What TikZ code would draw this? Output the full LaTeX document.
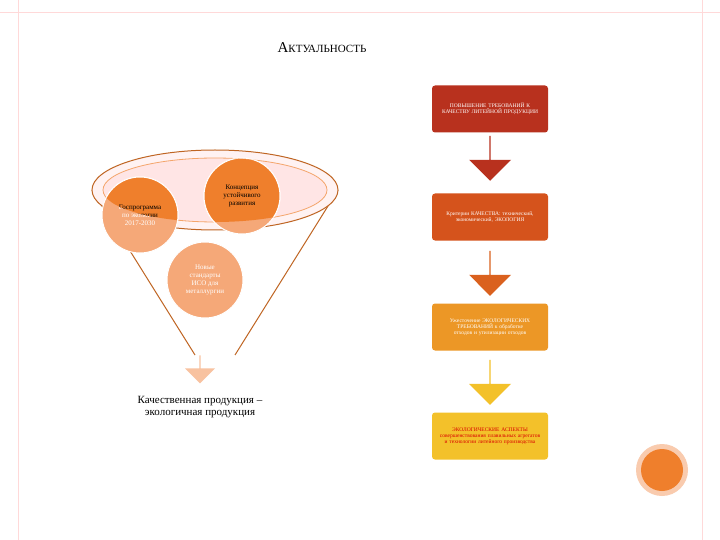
\documentclass[tikz,border=0pt]{standalone}
\usepackage{fontspec}
\setmainfont{Liberation Serif}
\usetikzlibrary{shapes.arrows}
\begin{document}
\begin{tikzpicture}[x=1pt,y=-1pt,
 rbox/.style={rounded corners=3pt,minimum width=116pt,minimum height=47pt,align=center,font=\fontsize{5.5}{6}\selectfont,inner sep=2pt,text width=104pt},
 circ/.style={circle,minimum size=76pt,draw=white,line width=1pt,align=center,font=\fontsize{7}{8}\selectfont,inner sep=0pt},
 bigarrow/.style={single arrow,single arrow head extend=8pt,shape border rotate=270,minimum height=45pt,minimum width=42pt,inner sep=0pt,single arrow tip angle=90}]
\useasboundingbox (0,0) rectangle (720,540);
\fill[white] (0,0) rectangle (720,540);
\draw[red!15,line width=0.8pt] (18,0) -- (18,540);
\draw[red!15,line width=0.8pt] (0,12) -- (720,12);
\draw[red!15,line width=0.8pt] (702,0) -- (702,540);
\node (title) at (322,48) {\fontsize{15}{16}\selectfont А\fontsize{11}{12}\selectfont КТУАЛЬНОСТЬ};
\definecolor{dor}{HTML}{EF7F2C}\definecolor{lor}{HTML}{F5A878}
\fill[white] (92,190) -- (195,355) -- (235,355) -- (338,190) -- cycle;
\draw[dor!80!black,line width=1pt] (92,190) -- (195,355) (338,190) -- (235,355);
\fill[red!5] (215,190) ellipse [x radius=123,y radius=40];
\draw[dor!80!black,line width=1pt] (215,190) ellipse [x radius=123,y radius=40];
\fill[red!10] (215,190) ellipse [x radius=112,y radius=32];
\draw[dor!70,line width=0.8pt] (215,190) ellipse [x radius=112,y radius=32];
\node[circ,fill=lor,text=white] (c1) at (140,215) {Госпрограмма\\по экологии\\2017-2030};
\node[circ,fill=lor,text=white] (c2) at (242,196) {Концепция\\устойчивого\\развития};
\node[circ,fill=lor,text=white] (c3) at (205,280) {Новые\\стандарты\\ИСО для\\металлургии};
\begin{scope}
\clip (215,190) ellipse [x radius=112,y radius=32];
\node[circ,fill=dor] at (140,215) {Госпрограмма\\по экологии\\2017-2030};
\node[circ,fill=dor] at (242,196) {Концепция\\устойчивого\\развития};
\end{scope}
\node[bigarrow,fill=lor!70,minimum height=28pt,minimum width=30pt,single arrow head extend=5pt] (fa) at (200,369) {};
\node[align=center,font=\fontsize{11}{12}\selectfont] (res) at (200,407) {Качественная продукция –\\экологичная продукция};
\definecolor{b1}{HTML}{B8311E}\definecolor{b2}{HTML}{D5531C}\definecolor{b3}{HTML}{EC9726}\definecolor{b4}{HTML}{F3C12A}
\node[rbox,fill=b1,text=white] (r1) at (490,109) {ПОВЫШЕНИЕ ТРЕБОВАНИЙ К КАЧЕСТВУ ЛИТЕЙНОЙ ПРОДУКЦИИ};
\node[bigarrow,fill=b1] (a1) at (490,158) {};
\node[rbox,fill=b2,text=white] (r2) at (490,217) {Критерии КАЧЕСТВА: технический, экономический, ЭКОЛОГИЯ};
\node[bigarrow,fill=b2!80!b3] (a2) at (490,273) {};
\node[rbox,fill=b3,text=white] (r3) at (490,327) {Ужесточение ЭКОЛОГИЧЕСКИХ ТРЕБОВАНИЙ к обработке отходов и утилизации отходов};
\node[bigarrow,fill=b4] (a3) at (490,382) {};
\node[rbox,fill=b4,text=red!85!black] (r4) at (490,436) {ЭКОЛОГИЧЕСКИЕ АСПЕКТЫ совершенствования плавильных агрегатов и технологии литейного производства};
\fill[lor!60] (662,470) circle (26);
\fill[dor] (662,470) circle (21);
\end{tikzpicture}
\end{document}
